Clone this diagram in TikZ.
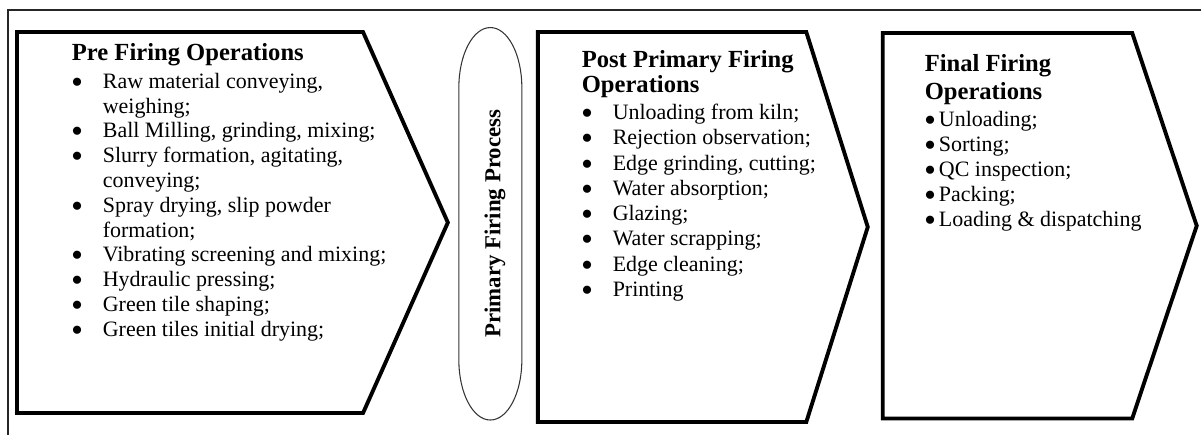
\documentclass[tikz,border=0pt]{standalone}
\usepackage{fontspec}
\setmainfont{Liberation Serif}
\usetikzlibrary{positioning,shapes.symbols}

\newcommand{\dotmark}{\raisebox{0.6pt}{$\bullet$}}
\newcommand{\bitem}{\makebox[17.6pt][l]{\dotmark}}
\newcommand{\bcont}{\hspace*{17.6pt}}
\newcommand{\stitle}[1]{{\fontsize{14}{14.5}\selectfont\bfseries #1}}

\begin{document}
\begin{tikzpicture}[x=0.02cm,y=0.02cm,node distance=0.28cm,outer sep=0pt,
    stage/.style={signal,signal to=east,draw,line width=2.2pt,inner sep=0pt},
    steps/.style={inner sep=0pt,align=left},
    capradii/.style={x radius=0.63cm,y radius=1.2cm}]
  \useasboundingbox (0,0) rectangle (1201,-434);
  % outer frame
  \draw[line width=1pt,black!85] (8,-440) -- (8,-10) -- (1210,-10);

  \node[stage,minimum width=8.62cm,minimum height=7.62cm,signal pointer angle=132]
        (pre) at (190,-222.5) {};
  \node[minimum width=1.26cm,minimum height=7.85cm,inner sep=0pt]
        (fire) [right=0.22cm of pre,yshift=-0.025cm]
        {\hspace*{0.18cm}\rotatebox{90}{\fontsize{13}{13}\selectfont\bfseries Primary Firing Process}};
  \draw[line width=0.6pt,black!80] (fire.north) arc[start angle=90,end angle=180,capradii]
        -- ++(0,-272.5) arc[start angle=180,end angle=360,capradii]
        -- ++(0,272.5) arc[start angle=0,end angle=90,capradii] -- cycle;
  \node[stage,minimum width=6.6cm,minimum height=7.8cm,signal pointer angle=145]
        (post) [right=0.32cm of fire,yshift=-0.065cm] {};
  \node[stage,minimum width=6.28cm,minimum height=7.71cm,signal pointer angle=143]
        (final) [right=0.3cm of post,yshift=0.025cm] {};

  \node[steps,font=\fontsize{12.5}{14.1}\selectfont] (pretxt) [below right=0.23cm and 1.1cm of pre.north west]
        {\stitle{Pre Firing Operations}\\[1.7pt]
         \bitem Raw material conveying,\\
         \bcont weighing;\\
         \bitem Ball Milling, grinding, mixing;\\
         \bitem Slurry formation, agitating,\\
         \bcont conveying;\\
         \bitem Spray drying, slip powder\\
         \bcont formation;\\
         \bitem Vibrating screening and mixing;\\
         \bitem Hydraulic pressing;\\
         \bitem Green tile shaping;\\
         \bitem Green tiles initial drying;};
  \node[steps,font=\fontsize{12.5}{14.4}\selectfont] (posttxt) [below right=0.36cm and 0.88cm of post.north west]
        {\stitle{Post Primary Firing}\\
         \stitle{Operations}\\[1pt]
         \bitem Unloading from kiln;\\
         \bitem Rejection observation;\\
         \bitem Edge grinding, cutting;\\
         \bitem Water absorption;\\
         \bitem Glazing;\\
         \bitem Water scrapping;\\
         \bitem Edge cleaning;\\
         \bitem Printing};
  \node[steps,font=\fontsize{12.5}{14.3}\selectfont] (finaltxt) [below right=0.42cm and 0.84cm of final.north west]
        {\stitle{Final Firing}\\[1.7pt]
         \stitle{Operations}\\[1.2pt]
         \dotmark\,Unloading;\\
         \dotmark\,Sorting;\\
         \dotmark\,QC inspection;\\
         \dotmark\,Packing;\\
         \dotmark\,Loading \& dispatching};
\end{tikzpicture}
\end{document}
